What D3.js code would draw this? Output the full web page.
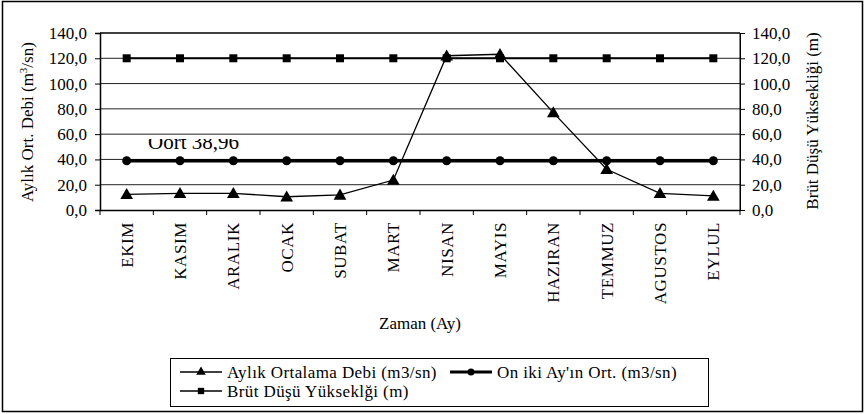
<!DOCTYPE html>
<html>
<head>
<meta charset="utf-8">
<script src="https://cdn.jsdelivr.net/npm/d3@7/dist/d3.min.js"></script>
<style>
  body { margin: 0; background: #fff; }
  svg text { font-family: 'Liberation Serif', 'Times New Roman', serif; }
</style>
</head>
<body>
<div id="chart"></div>
<script>
// months (Ekim -> Eylul)
var months = ['EKIM', 'KASIM', 'ARALIK', 'OCAK', 'SUBAT', 'MART', 'NISAN', 'MAYIS', 'HAZIRAN', 'TEMMUZ', 'AGUSTOS', 'EYLUL']
var aylikDebi = [12.4, 13.2, 13.2, 10.5, 11.9, 23.7, 122.0, 123.2, 77.0, 32.2, 13.2, 11.1]
var ortDebi = [38.96, 38.96, 38.96, 38.96, 38.96, 38.96, 38.96, 38.96, 38.96, 38.96, 38.96, 38.96]
var brutDusu = [120, 120, 120, 120, 120, 120, 120, 120, 120, 120, 120, 120]
var yTicks = [0, 20, 40, 60, 80, 100, 120, 140]
var seriesNames = ['Aylık Ortalama Debi (m3/sn)', "On iki Ay'ın Ort. (m3/sn)", 'Brüt Düşü Yükseklği (m)']

const W = 865, H = 414
const plot = { left: 100, right: 740, top: 33, bottom: 210 }
const serif = 'Liberation Serif'

const svg = d3.select('#chart').append('svg')
    .attr('width', W)
    .attr('height', H)
    .attr('font-family', serif)

// outer frame
svg.append('rect')
    .attr('x', 2.5).attr('y', 1.5)
    .attr('width', 860).attr('height', 410)
    .attr('fill', 'none').attr('stroke', '#000').attr('stroke-width', 1.5)

var x = d3.scaleBand()
    .domain(months)
    .range([plot.left, plot.right])

var y = d3.scaleLinear()
    .domain([0, 140])
    .range([plot.bottom, plot.top])

var y2 = d3.scaleLinear()
    .domain([0, 140])
    .range([plot.bottom, plot.top])

var fmt = function(d) { return d3.format('.1f')(d).replace('.', ',') }

// gridlines
svg.append('g')
    .selectAll('line')
    .data(yTicks.slice(1))
    .enter().append('line')
    .attr('x1', plot.left).attr('x2', plot.right)
    .attr('y1', d => y(d)).attr('y2', d => y(d))
    .attr('stroke', d => d == 140 ? '#000' : '#222')
    .attr('stroke-width', d => d == 140 ? 1.6 : 1)

// right border
svg.append('line')
    .attr('x1', plot.right).attr('x2', plot.right)
    .attr('y1', plot.top).attr('y2', plot.bottom)
    .attr('stroke', '#000')

// left axis
var yAxis = svg.append('g')
    .attr('transform', 'translate(' + plot.left + ',0)')
    .call(d3.axisLeft(y).tickValues(yTicks).tickFormat(fmt).tickSize(5).tickPadding(8))
yAxis.attr('font-family', serif)
yAxis.select('.domain').attr('stroke', '#000').attr('stroke-width', 1.5)
yAxis.selectAll('text').attr('font-size', 17).attr('fill', '#000')

// right axis
var yAxis2 = svg.append('g')
    .attr('transform', 'translate(' + plot.right + ',0)')
    .call(d3.axisRight(y2).tickValues(yTicks).tickFormat(fmt).tickSize(5).tickPadding(7))
yAxis2.attr('font-family', serif)
yAxis2.select('.domain').attr('stroke', '#000')
yAxis2.selectAll('text').attr('font-size', 17).attr('fill', '#000')

// bottom axis: ticks between categories
var xAxis = svg.append('g')
    .attr('transform', 'translate(0,' + plot.bottom + ')')
    .call(d3.axisBottom(x).tickSize(0).tickFormat(''))
xAxis.select('.domain').attr('stroke', '#000').attr('stroke-width', 1.5)
xAxis.selectAll('.sep')
    .data(months.concat(['end']))
    .enter().append('line')
    .attr('class', 'sep')
    .attr('x1', (d, i) => plot.left + i * x.step())
    .attr('x2', (d, i) => plot.left + i * x.step())
    .attr('y1', 0).attr('y2', 5)
    .attr('stroke', '#000')

// month labels, rotated
svg.append('g')
    .selectAll('text')
    .data(months)
    .enter().append('text')
    .attr('transform', d => 'translate(' + (x(d) + x.bandwidth() / 2) + ',222) rotate(-90)')
    .attr('dy', '0.35em')
    .attr('text-anchor', 'end')
    .attr('font-size', 17)
    .attr('letter-spacing', 0.6)
    .text(d => d)

// axis titles
var lt = svg.append('text')
    .attr('transform', 'translate(33,122) rotate(-90)')
    .attr('text-anchor', 'middle')
    .attr('font-size', 17)
lt.append('tspan').text('Aylık Ort. Debi (m')
lt.append('tspan').attr('font-size', 11).attr('dy', -6).text('3')
lt.append('tspan').attr('dy', 6).text('/sn)')

svg.append('text')
    .attr('transform', 'translate(818,121) rotate(-90)')
    .attr('text-anchor', 'middle')
    .attr('font-size', 17)
    .text('Brüt Düşü Yüksekliği (m)')

svg.append('text')
    .attr('x', (plot.left + plot.right) / 2)
    .attr('y', 329)
    .attr('text-anchor', 'middle')
    .attr('font-size', 17)
    .text('Zaman (Ay)')

// average label (top is clipped in the original)
svg.append('clipPath').attr('id', 'oclip')
    .append('rect').attr('x', 140).attr('y', 139).attr('width', 120).attr('height', 20)
svg.append('text')
    .attr('clip-path', 'url(#oclip)')
    .attr('x', 148)
    .attr('y', 149)
    .attr('font-size', 21)
    .text('Oort 38,96')

var line = d3.line()
    .x((d, i) => x(months[i]) + x.bandwidth() / 2)
    .y(d => y(d))

var triangle = d3.symbol().type(d3.symbolTriangle).size(70)
var square = d3.symbol().type(d3.symbolSquare).size(64)

// Brut dusu
svg.append('path')
    .attr('d', line(brutDusu))
    .attr('fill', 'none').attr('stroke', '#000').attr('stroke-width', 2)
svg.append('g').selectAll('path')
    .data(brutDusu)
    .enter().append('path')
    .attr('d', square)
    .attr('transform', (d, i) => 'translate(' + (x(months[i]) + x.bandwidth() / 2) + ',' + y2(d) + ')')
    .attr('fill', '#000')

// on iki ay ortalamasi
svg.append('path')
    .attr('d', line(ortDebi))
    .attr('fill', 'none').attr('stroke', '#000').attr('stroke-width', 3.5)
svg.append('g').selectAll('circle')
    .data(ortDebi)
    .enter().append('circle')
    .attr('cx', (d, i) => x(months[i]) + x.bandwidth() / 2)
    .attr('cy', d => y(d))
    .attr('r', 4.5)
    .attr('fill', '#000')

// aylik ortalama debi
svg.append('path')
    .attr('d', line(aylikDebi))
    .attr('fill', 'none').attr('stroke', '#000').attr('stroke-width', 1.3)
svg.append('g').selectAll('path')
    .data(aylikDebi)
    .enter().append('path')
    .attr('d', triangle)
    .attr('transform', (d, i) => 'translate(' + (x(months[i]) + x.bandwidth() / 2) + ',' + (y(d) + 1) + ')')
    .attr('fill', '#000')

// legend
var lg = svg.append('g')
lg.append('rect')
    .attr('x', 170.5).attr('y', 358.5)
    .attr('width', 538).attr('height', 48)
    .attr('fill', 'none').attr('stroke', '#000')

var legendItems = [
    { name: seriesNames[0], x: 180, y: 372, sym: 'tri', w: 1.3 },
    { name: seriesNames[1], x: 450, y: 372, sym: 'circle', w: 3 },
    { name: seriesNames[2], x: 180, y: 391, sym: 'sq', w: 1.3 }
]
legendItems.forEach(function(it) {
    var g = lg.append('g').attr('transform', 'translate(' + it.x + ',' + it.y + ')')
    g.append('line').attr('x1', 0).attr('x2', 42).attr('y1', 0).attr('y2', 0)
        .attr('stroke', '#000').attr('stroke-width', it.w)
    if (it.sym == 'tri') {
        g.append('path').attr('d', d3.symbol().type(d3.symbolTriangle).size(40))
            .attr('transform', 'translate(21,0)').attr('fill', '#000')
    } else if (it.sym == 'sq') {
        g.append('path').attr('d', d3.symbol().type(d3.symbolSquare).size(40))
            .attr('transform', 'translate(21,0)').attr('fill', '#000')
    } else {
        g.append('circle').attr('cx', 21).attr('cy', 0).attr('r', 3.5).attr('fill', '#000')
    }
    g.append('text')
        .attr('x', 47).attr('dy', '0.35em')
        .attr('font-size', 17)
        .attr('letter-spacing', 0.4)
        .text(it.name)
})
</script>
</body>
</html>
